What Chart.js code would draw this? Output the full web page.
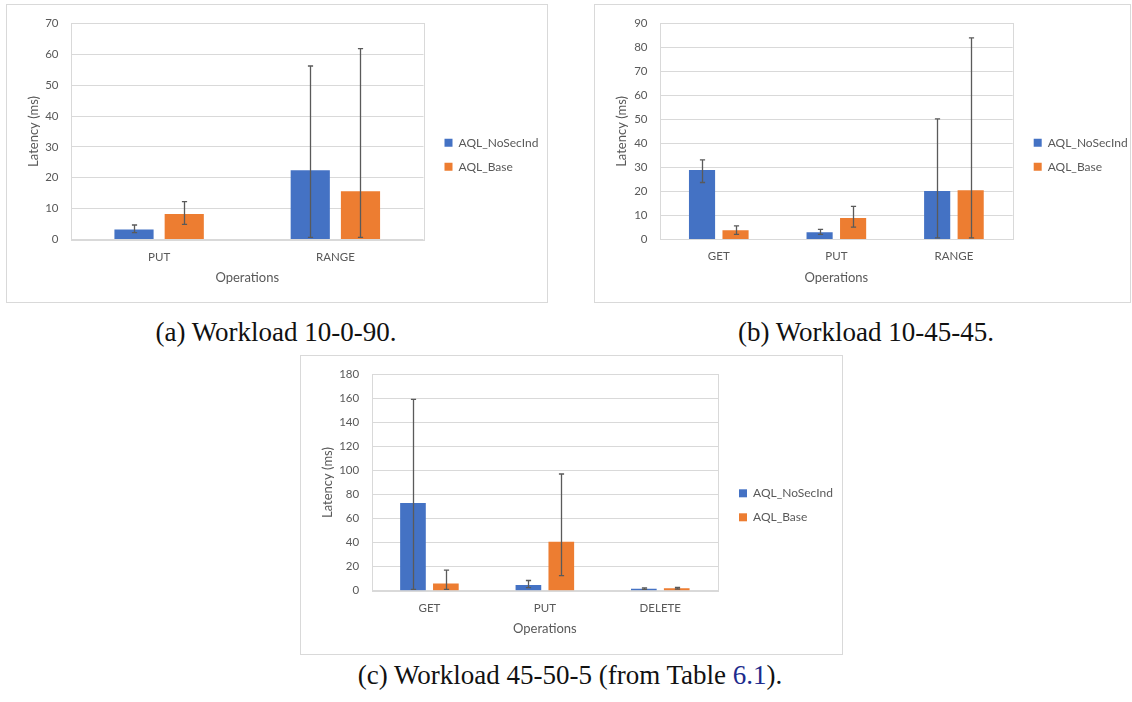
<!DOCTYPE html>
<html><head><meta charset="utf-8">
<script src="https://cdn.jsdelivr.net/npm/chart.js@4"></script>
<style>
html,body{margin:0;padding:0;background:#fff;}
body{width:1132px;height:702px;position:relative;overflow:hidden;}
.box{position:absolute;border:1px solid #d9d9d9;box-sizing:border-box;}
canvas{position:absolute;}
.cap{position:absolute;font-family:"Liberation Serif",serif;font-size:27px;line-height:27px;color:#111;white-space:nowrap;transform:translateX(-50%);}
.ref{color:#1c2b8c;}
</style></head><body>
<div class="box" id="boxA"></div><canvas id="chartA"></canvas>
<div class="box" id="boxB"></div><canvas id="chartB"></canvas>
<div class="box" id="boxC"></div><canvas id="chartC"></canvas>
<div class="cap" style="left:276px;top:319px">(a) Workload 10-0-90.</div>
<div class="cap" style="left:866px;top:319px">(b) Workload 10-45-45.</div>
<div class="cap" style="left:570px;top:662px">(c) Workload 45-50-5 (from Table <span class="ref">6.1</span>).</div>
<script>
// ---------- data ----------
const seriesNames = ['AQL_NoSecInd', 'AQL_Base'];
const xTitle = 'Operations';
const yTitle = 'Latency (ms)';

const catsA = ['PUT', 'RANGE'];
const noSecA = [3.2, 22.4];
const noSecALow = [2.2, 0.7];
const noSecAHigh = [4.7, 56.2];
const baseA = [8.3, 15.6];
const baseALow = [4.9, 0.7];
const baseAHigh = [12.3, 61.8];
const yTicksA = [0, 10, 20, 30, 40, 50, 60, 70];

const catsB = ['GET', 'PUT', 'RANGE'];
const noSecB = [28.9, 3.0, 20.2];
const noSecBLow = [23.7, 2.1, 0.6];
const noSecBHigh = [33.1, 4.2, 50.2];
const baseB = [3.8, 8.9, 20.5];
const baseBLow = [2.1, 5.1, 0.6];
const baseBHigh = [5.6, 13.8, 84.0];
const yTicksB = [0, 10, 20, 30, 40, 50, 60, 70, 80, 90];

const catsC = ['GET', 'PUT', 'DELETE'];
const noSecC = [73.0, 4.7, 1.6];
const noSecCLow = [1.1, 2.5, 1.1];
const noSecCHigh = [159.2, 8.5, 2.3];
const baseC = [6.0, 40.8, 2.0];
const baseCLow = [1.1, 12.6, 1.4];
const baseCHigh = [17.2, 97.1, 2.7];
const yTicksC = [0, 20, 40, 60, 80, 100, 120, 140, 160, 180];

// ---------- styling / layout ----------
const COLORS = ['#4472C4', '#ED7D31'];
const GRID = '#d9d9d9';
const TEXT = '#595959';
Chart.defaults.font.family = 'Lato, "Open Sans", sans-serif';
Chart.defaults.color = TEXT;

const errorBars = {
  id: 'errorBars',
  afterDatasetsDraw(chart) {
    const ctx = chart.ctx, y = chart.scales.y;
    chart.data.datasets.forEach((ds, i) => {
      const meta = chart.getDatasetMeta(i);
      meta.data.forEach((bar, j) => {
        const x = Math.round(bar.x) + 0.5;
        const yl = y.getPixelForValue(ds.errLow[j]);
        const yh = y.getPixelForValue(ds.errHigh[j]);
        ctx.save();
        ctx.strokeStyle = '#5a5a5a';
        ctx.lineWidth = 1.3;
        ctx.beginPath();
        ctx.moveTo(x, yl); ctx.lineTo(x, yh);
        ctx.moveTo(x - 2.6, yl); ctx.lineTo(x + 2.6, yl);
        ctx.moveTo(x - 2.6, yh); ctx.lineTo(x + 2.6, yh);
        ctx.stroke();
        ctx.restore();
      });
    });
  }
};

const areaBorder = {
  id: 'areaBorder',
  beforeDatasetsDraw(chart) {
    const {ctx, chartArea: a} = chart;
    ctx.save();
    ctx.strokeStyle = GRID;
    ctx.lineWidth = 1;
    ctx.strokeRect(Math.round(a.left) + 0.5, Math.round(a.top) + 0.5,
                   Math.round(a.right) - Math.round(a.left), Math.round(a.bottom) - Math.round(a.top));
    ctx.restore();
  }
};

const legendPlace = {
  id: 'legendPlace',
  afterLayout(chart) {
    const g = chart.options.plugins.legendPlace;
    const L = chart.legend;
    const pad = L.options.labels.padding;
    L.left = chart.chartArea.right + g.gap - pad;
    L.width = chart.width - L.left;
    L.right = chart.width;
    L.top = 0;
    L.bottom = 2 * g.midY;
    L.height = L.bottom - L.top;
  }
};

function makeChart(id, boxId, geo, cats, s1, s1lo, s1hi, s2, s2lo, s2hi, yTicks) {
  const box = document.getElementById(boxId);
  Object.assign(box.style, {left: geo.x + 'px', top: geo.y + 'px', width: geo.w + 'px', height: geo.h + 'px'});
  const cv = document.getElementById(id);
  cv.width = geo.w; cv.height = geo.h;
  Object.assign(cv.style, {left: geo.x + 'px', top: geo.y + 'px', width: geo.w + 'px', height: geo.h + 'px'});
  const legendW = 100, xH = 50, padL = 16;
  const yMax = yTicks[yTicks.length - 1];
  const yStep = yTicks[1] - yTicks[0];
  return new Chart(cv, {
    type: 'bar',
    data: {
      labels: cats,
      datasets: [
        {label: seriesNames[0], data: s1, errLow: s1lo, errHigh: s1hi, backgroundColor: COLORS[0]},
        {label: seriesNames[1], data: s2, errLow: s2lo, errHigh: s2hi, backgroundColor: COLORS[1]}
      ]
    },
    options: {
      responsive: false,
      animation: false,
      events: [],
      layout: {padding: {left: padL, top: geo.aT, right: geo.w - legendW - geo.aR, bottom: geo.h - geo.aB - xH}},
      datasets: {bar: {categoryPercentage: 0.57, barPercentage: 0.78, borderWidth: 0}},
      scales: {
        x: {
          grid: {display: false, drawTicks: false},
          border: {display: false},
          ticks: {padding: 10.4, font: {size: 11.5}, color: TEXT},
          title: {display: true, text: xTitle, font: {size: 13}, color: TEXT, padding: {top: 0, bottom: 3.7}},
          afterFit: s => { s.height = xH; }
        },
        y: {
          min: 0, max: yMax,
          grid: {color: GRID, drawTicks: false},
          border: {display: false},
          ticks: {stepSize: yStep, padding: 12.5, font: {size: 11.5}, color: TEXT},
          title: {display: true, text: yTitle, font: {size: 13}, color: TEXT, padding: {top: 4.2, bottom: 0}},
          afterFit: s => { s.width = geo.aL - padL; }
        }
      },
      plugins: {
        legend: {
          position: 'right',
          maxWidth: legendW,
          labels: {boxWidth: 8, boxHeight: 8, padding: 12, font: {size: 12}, color: TEXT}
        },
        tooltip: {enabled: false},
        legendPlace: {gap: geo.gap, midY: geo.midY}
      }
    },
    plugins: [areaBorder, errorBars, legendPlace]
  });
}

const geoA = {x: 6, y: 4, w: 542, h: 299, aL: 65, aR: 417.5, aT: 16.7, aB: 235.5, gap: 21, midY: 150.7};
const geoB = {x: 594, y: 4, w: 537, h: 299, aL: 66, aR: 418.7, aT: 16.7, aB: 235.4, gap: 21, midY: 150.7};
const geoC = {x: 300, y: 355, w: 543, h: 300, aL: 71.7, aR: 418, aT: 17, aB: 235.7, gap: 21, midY: 150.3};

makeChart('chartA', 'boxA', geoA, catsA, noSecA, noSecALow, noSecAHigh, baseA, baseALow, baseAHigh, yTicksA);
makeChart('chartB', 'boxB', geoB, catsB, noSecB, noSecBLow, noSecBHigh, baseB, baseBLow, baseBHigh, yTicksB);
makeChart('chartC', 'boxC', geoC, catsC, noSecC, noSecCLow, noSecCHigh, baseC, baseCLow, baseCHigh, yTicksC);
</script>
</body></html>
